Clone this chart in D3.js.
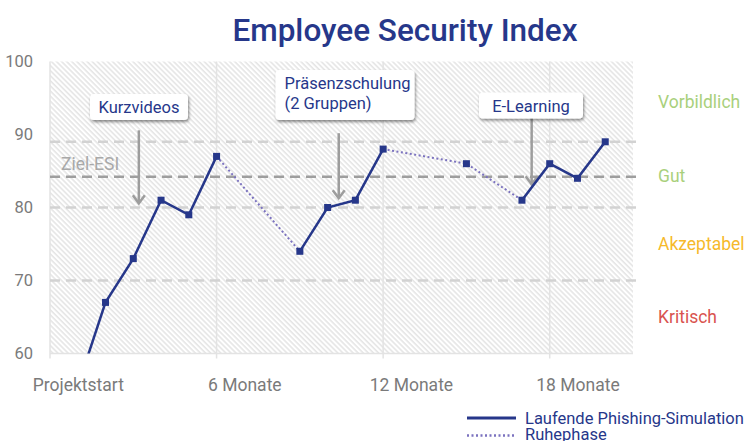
<!DOCTYPE html>
<html>
<head>
<meta charset="utf-8">
<script src="https://cdn.jsdelivr.net/npm/d3@7"></script>
<style>
  body { margin: 0; background: #fff; }
  text { font-family: Roboto, "Noto Sans", sans-serif; }
</style>
</head>
<body>
<script>
// month index and ESI value, per segment
var activeSegments = [
    [[1, 55.5], [2, 67], [3, 73], [4, 81], [5, 79], [6, 87]],
    [[9, 74], [10, 80], [11, 81], [12, 88]],
    [[17, 81], [18, 86], [19, 84], [20, 89]]
];
var restSegments = [
    [[6, 87], [9, 74]],
    [[12, 88], [15, 86], [17, 81]]
];
var markerPoints = [[2, 67], [3, 73], [4, 81], [5, 79], [6, 87], [9, 74], [10, 80], [11, 81], [12, 88],
    [15, 86], [17, 81], [18, 86], [19, 84], [20, 89]];

var xTicks = [0, 6, 12, 18];
var xTickLabels = ["Projektstart", "6 Monate", "12 Monate", "18 Monate"];
var yTicks = [60, 70, 80, 90, 100];

var levelLines = [70, 80, 89];
var targetValue = 84.2;
var levels = [
    { name: "Vorbildlich", value: 94.5, color: "#a9d07c" },
    { name: "Gut", value: 84.3, color: "#a9d07c" },
    { name: "Akzeptabel", value: 75, color: "#f6b92b" },
    { name: "Kritisch", value: 65, color: "#d9534f" }
];

var notes = [
    { lines: ["Kurzvideos"], month: 3.2, tip: 80.3 },
    { lines: ["Präsenzschulung", "(2 Gruppen)"], month: 10.4, tip: 81 },
    { lines: ["E-Learning"], month: 17.35, tip: 82.9 }
];

var W = 747, H = 441;
var margin = { top: 61.5, left: 50, right: 114, bottom: 87.5 };
var width = W - margin.left - margin.right,
    height = H - margin.top - margin.bottom;

var navy = "#26378a";

var svg = d3.select("body").append("svg")
    .attr("width", W)
    .attr("height", H);

var defs = svg.append("defs");
var pat = defs.append("pattern")
    .attr("id", "hatch")
    .attr("patternUnits", "userSpaceOnUse")
    .attr("width", 3.6)
    .attr("height", 3.6)
    .attr("patternTransform", "rotate(-45)");
pat.append("rect").attr("width", 3.6).attr("height", 3.6).attr("fill", "#fff");
pat.append("line")
    .attr("x1", 1).attr("x2", 1).attr("y1", 0).attr("y2", 3.6)
    .attr("stroke", "#e2e2e2").attr("stroke-width", 1.4);

var shadow = defs.append("filter").attr("id", "shadow")
    .attr("x", "-20%").attr("y", "-30%").attr("width", "140%").attr("height", "170%");
shadow.append("feDropShadow")
    .attr("dx", 1).attr("dy", 2).attr("stdDeviation", 1.6)
    .attr("flood-color", "#000").attr("flood-opacity", 0.45);

var clip = defs.append("clipPath").attr("id", "plotclip");
clip.append("rect").attr("width", width).attr("height", height);

var g = svg.append("g")
    .attr("transform", "translate(" + margin.left + "," + margin.top + ")");

var x = d3.scaleLinear().domain([0, 21]).range([0, width]);
var y = d3.scaleLinear().domain([60, 100]).range([height, 0]);

// title
svg.append("text")
    .attr("x", 405)
    .attr("y", 41)
    .attr("text-anchor", "middle")
    .attr("font-size", 31.5)
    .attr("font-weight", 500)
    .attr("fill", navy)
    .text("Employee Security Index");

// hatched background
g.append("rect")
    .attr("width", width)
    .attr("height", height)
    .attr("fill", "url(#hatch)");

// vertical grid + bottom axis
g.selectAll(".vgrid")
    .data(xTicks)
    .enter().append("line")
    .attr("x1", function (d) { return x(d); })
    .attr("x2", function (d) { return x(d); })
    .attr("y1", 0)
    .attr("y2", height + 5)
    .attr("stroke", "#e3e3e3")
    .attr("stroke-width", 1.5);

g.append("line")
    .attr("x1", 0).attr("x2", width)
    .attr("y1", height).attr("y2", height)
    .attr("stroke", "#e3e3e3").attr("stroke-width", 1.5);

var xAxis = g.append("g")
    .attr("transform", "translate(0," + height + ")")
    .call(d3.axisBottom(x).tickValues(xTicks)
        .tickFormat(function (d, i) { return xTickLabels[i]; })
        .tickSize(0).tickPadding(25));
xAxis.select(".domain").remove();
xAxis.selectAll("text")
    .attr("dx", x(1) - x(0))
    .attr("font-size", 17.5)
    .attr("fill", "#7a7a7a");

var yAxis = g.append("g")
    .call(d3.axisLeft(y).tickValues(yTicks).tickSize(0).tickPadding(17));
yAxis.select(".domain").remove();
yAxis.selectAll("text")
    .attr("font-size", 16.5)
    .attr("fill", "#7a7a7a");

// level lines
g.selectAll(".level")
    .data(levelLines)
    .enter().append("line")
    .attr("x1", 0)
    .attr("x2", width + 8)
    .attr("y1", function (d) { return y(d); })
    .attr("y2", function (d) { return y(d); })
    .attr("stroke", "#d2d2d2")
    .attr("stroke-width", 2.5)
    .attr("stroke-dasharray", "10,6");

g.append("line")
    .attr("x1", 0)
    .attr("x2", width + 8)
    .attr("y1", y(targetValue))
    .attr("y2", y(targetValue))
    .attr("stroke", "#9e9e9e")
    .attr("stroke-width", 2.5)
    .attr("stroke-dasharray", "10,6");

g.append("text")
    .attr("x", 11)
    .attr("y", y(targetValue) - 7)
    .attr("font-size", 17.5)
    .attr("fill", "#a8a8a8")
    .text("Ziel-ESI");

// level names on the right
g.selectAll(".lvlname")
    .data(levels)
    .enter().append("text")
    .attr("x", width + 25)
    .attr("y", function (d) { return y(d.value); })
    .attr("dy", "0.35em")
    .attr("font-size", 17.5)
    .attr("fill", function (d) { return d.color; })
    .text(function (d) { return d.name; });

// annotations
notes.forEach(function (n) {
    var ax = x(n.month);
    g.append("line")
        .attr("x1", ax).attr("x2", ax)
        .attr("y1", y(n.tip) - (n.lines.length > 1 ? 67 : 75))
        .attr("y2", y(n.tip) - 2)
        .attr("stroke", "#9d9d9d")
        .attr("stroke-width", 2.5);
    g.append("path")
        .attr("d", "M" + (ax - 6) + "," + (y(n.tip) - 10) + " L" + ax + "," + (y(n.tip) - 2) + " L" + (ax + 6) + "," + (y(n.tip) - 10))
        .attr("fill", "none")
        .attr("stroke", "#9d9d9d")
        .attr("stroke-width", 2.5);
});

var boxes = [
    { x: 40, y: 32.5, w: 98, h: 26 },
    { x: 225.5, y: 8.5, w: 139, h: 50 },
    { x: 429, y: 31, w: 104, h: 26 }
];
notes.forEach(function (n, i) {
    var b = boxes[i];
    var ng = g.append("g");
    ng.append("rect")
        .attr("x", b.x).attr("y", b.y)
        .attr("width", b.w).attr("height", b.h)
        .attr("rx", 4)
        .attr("fill", "#fff")
        .attr("filter", "url(#shadow)");
    ng.selectAll("text")
        .data(n.lines)
        .enter().append("text")
        .attr("x", b.x + (n.lines.length > 1 ? 9 : b.w / 2))
        .attr("y", function (d, j) { return b.y + 19 + j * 20; })
        .attr("text-anchor", n.lines.length > 1 ? "start" : "middle")
        .attr("font-size", 16.5)
        .attr("fill", navy)
        .text(function (d) { return d; });
});

// data lines
var line = d3.line()
    .x(function (d) { return x(d[0]); })
    .y(function (d) { return y(d[1]); });

var plot = g.append("g").attr("clip-path", "url(#plotclip)");

plot.selectAll(".rest")
    .data(restSegments)
    .enter().append("path")
    .attr("d", line)
    .attr("fill", "none")
    .attr("stroke", "#7b72bf")
    .attr("stroke-width", 2)
    .attr("stroke-dasharray", "2,2.5");

plot.selectAll(".active")
    .data(activeSegments)
    .enter().append("path")
    .attr("d", line)
    .attr("fill", "none")
    .attr("stroke", navy)
    .attr("stroke-width", 2.5);

g.selectAll(".mark")
    .data(markerPoints)
    .enter().append("rect")
    .attr("x", function (d) { return x(d[0]) - 3.5; })
    .attr("y", function (d) { return y(d[1]) - 3.5; })
    .attr("width", 7)
    .attr("height", 7)
    .attr("fill", navy);

// legend
var leg = svg.append("g").attr("transform", "translate(467,418)");
leg.append("line")
    .attr("x1", 0).attr("x2", 49).attr("y1", 0).attr("y2", 0)
    .attr("stroke", navy).attr("stroke-width", 3);
leg.append("text")
    .attr("x", 58).attr("y", 0).attr("dy", "0.35em")
    .attr("font-size", 16.5).attr("fill", navy)
    .text("Laufende Phishing-Simulation");
leg.append("line")
    .attr("x1", 0).attr("x2", 49).attr("y1", 17.5).attr("y2", 17.5)
    .attr("stroke", "#7b72bf").attr("stroke-width", 2.5)
    .attr("stroke-dasharray", "2,2.5");
leg.append("text")
    .attr("x", 58).attr("y", 16.5).attr("dy", "0.35em")
    .attr("font-size", 16.5).attr("fill", navy)
    .text("Ruhephase");
</script>
</body>
</html>
